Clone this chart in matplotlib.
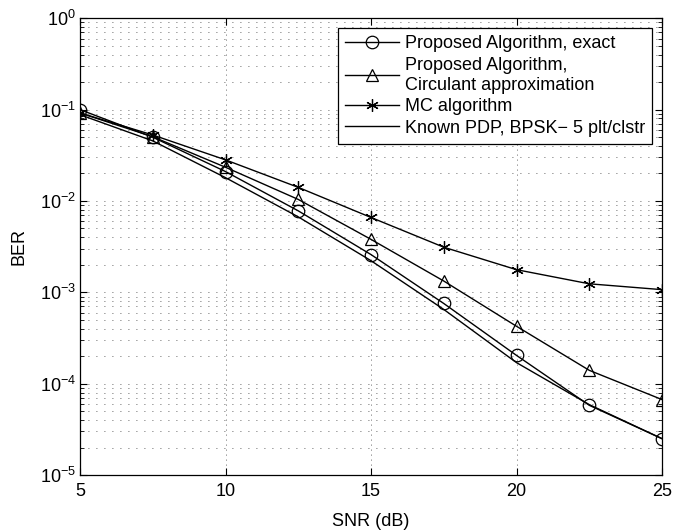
import matplotlib
matplotlib.use("Agg")
import matplotlib.pyplot as plt
from matplotlib.ticker import LogLocator, NullFormatter

plt.rcParams['font.family'] = ['Liberation Sans', 'DejaVu Sans']

snr = [5, 7.5, 10, 12.5, 15, 17.5, 20, 22.5, 25]
ber_exact = [0.100, 0.0499, 0.0210, 0.0078, 0.00259, 0.000755, 0.000204, 5.8e-5, 2.5e-5]
ber_circ = [0.092, 0.0505, 0.0234, 0.0104, 0.0038, 0.00133, 0.000425, 0.000140, 6.7e-5]
ber_mc = [0.092, 0.0528, 0.0282, 0.0141, 0.00660, 0.00312, 0.00177, 0.00124, 0.00107]
ber_known = [0.088, 0.0455, 0.0180, 0.0067, 0.00222, 0.00065, 0.000170, 5.9e-5, 2.5e-5]

labels = ['Proposed Algorithm, exact',
          'Proposed Algorithm,\nCirculant approximation',
          'MC algorithm',
          'Known PDP, BPSK\u2212 5 plt/clstr']

fig = plt.figure(figsize=(6.94, 5.32), dpi=100)
ax = fig.add_axes([0.1153, 0.1071, 0.8386, 0.8585])

ax.semilogy(snr, ber_exact, color='k', lw=1, marker='o', ms=9, mfc='none', mec='k', mew=0.9, label=labels[0])
ax.semilogy(snr, ber_circ, color='k', lw=1, marker='^', ms=9, mfc='none', mec='k', mew=0.9, label=labels[1])
ax.semilogy(snr, ber_mc, color='k', lw=1, marker=(6, 2, 0), ms=9, mec='k', mew=0.9, label=labels[2])
ax.semilogy(snr, ber_known, color='k', lw=1, label=labels[3])

ax.set_xlim(5, 25)
ax.set_ylim(1e-5, 1e0)
ax.set_xticks([5, 10, 15, 20, 25])
ax.yaxis.set_major_locator(LogLocator(base=10, numticks=10))
ax.yaxis.set_minor_locator(LogLocator(base=10, subs=range(2, 10), numticks=100))
ax.yaxis.set_minor_formatter(NullFormatter())

ax.grid(True, which='major', axis='x', linestyle=(0, (1, 5)), color='k', lw=0.6, alpha=0.8)
ax.grid(True, which='major', axis='y', linestyle=(0, (1, 8.6)), color='k', lw=0.6, alpha=0.8)
ax.grid(True, which='minor', axis='y', linestyle=(0, (1, 8.6)), color='k', lw=0.6, alpha=0.8)

ax.tick_params(which='both', direction='in', top=True, right=True, labelsize=13)
ax.tick_params(axis='x', which='major', pad=6)
ax.tick_params(axis='y', which='major', pad=3)
ax.tick_params(which='major', length=5)
ax.tick_params(which='minor', length=3)
for s in ax.spines.values():
    s.set_linewidth(0.9)

ax.set_xlabel('SNR (dB)', fontsize=13, labelpad=9)
ax.set_ylabel('BER', fontsize=13, labelpad=9)

leg = ax.legend(loc='upper right', fontsize=13, frameon=True, fancybox=False,
                edgecolor='k', framealpha=1, borderpad=0.4, labelspacing=0.25,
                handlelength=3.0, handletextpad=0.3, borderaxespad=0.55)
leg.get_frame().set_linewidth(0.9)

fig.savefig('out.png', dpi=100)
